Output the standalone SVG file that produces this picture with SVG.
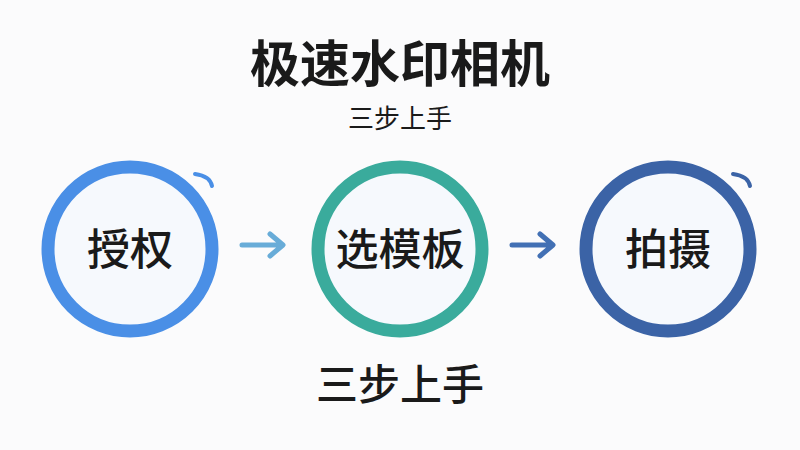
<svg xmlns="http://www.w3.org/2000/svg" width="800" height="450" viewBox="0 0 800 450">
<style>
text{font-family:"Noto Sans CJK SC","Noto Sans",sans-serif;fill:#1a1a1a;text-anchor:middle}
.ring{fill:#f6f9fd;stroke-width:13}
.tick{fill:none;stroke-width:4;stroke-linecap:round}
.lbl{font-size:43px;font-weight:500}
.arr{fill:none;stroke-width:5;stroke-linecap:round;stroke-linejoin:round}
</style>
<rect width="800" height="450" fill="#fbfbfc"/>
<text x="400" y="82" font-size="50" font-weight="bold">极速水印相机</text>
<text x="400" y="128" font-size="26">三步上手</text>
<g id="node1">
<circle class="ring" cx="130" cy="249" r="82" stroke="#4a8fe6"/>
<path class="tick" d="M195 174 Q210 176 212 186" stroke="#4a8fe6"/>
<text class="lbl" x="130" y="265">授权</text>
</g>
<g id="node2">
<circle class="ring" cx="400" cy="249" r="82" stroke="#3aab9c"/>
<text class="lbl" x="400" y="265">选模板</text>
</g>
<g id="node3">
<circle class="ring" cx="668" cy="249" r="82" stroke="#3b63a6"/>
<path class="tick" d="M733 174 Q748 176 750 186" stroke="#3b63a6"/>
<text class="lbl" x="668" y="265">拍摄</text>
</g>
<g id="connectors">
<path class="arr" d="M242 245 H282 M270 234 L283 245 L270 256" stroke="#68acd8"/>
<path class="arr" d="M512 245 H552 M540 234 L553 245 L540 256" stroke="#4270b4"/>
</g>
<text x="400" y="400" font-size="42" font-weight="500">三步上手</text>
</svg>
